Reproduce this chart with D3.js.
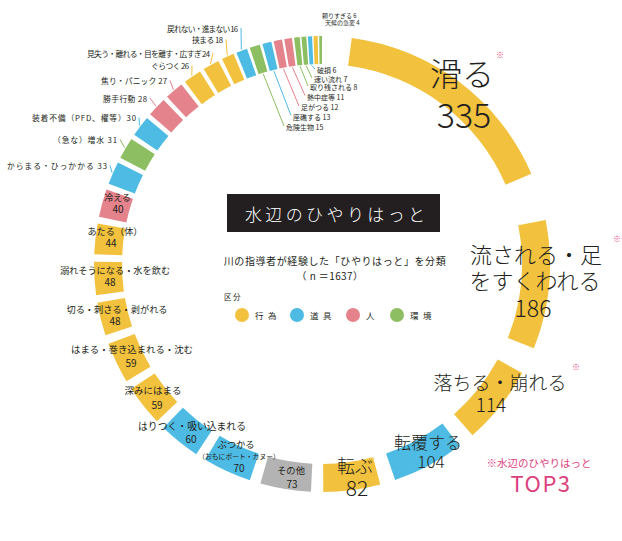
<!DOCTYPE html>
<html>
<head>
<meta charset="utf-8">
<script src="https://cdn.jsdelivr.net/npm/d3@7"></script>
<style>
  html, body { margin: 0; padding: 0; background: #fff; }
  svg { display: block; font-family: "Noto Sans CJK JP", "Noto Sans", sans-serif; }
</style>
</head>
<body>
<svg id="chart" width="622" height="541"></svg>
<script>
// ---- data: near-miss categories reported by river instructors (n = 1637) ----
const categories = [
  "滑る", "流される・足をすくわれる", "落ちる・崩れる", "転覆する", "転ぶ", "その他",
  "ぶつかる（おもにボート・カヌー）", "はりつく・吸い込まれる", "深みにはまる",
  "はまる・巻き込まれる・沈む", "切る・刺さる・剥がれる", "溺れそうになる・水を飲む",
  "あたる（体）", "冷える", "からまる・ひっかかる", "（急な）増水", "装着不備（PFD、櫂等）",
  "勝手行動", "焦り・パニック", "ぐらつく", "見失う・離れる・目を離す・広すぎ", "挟まる",
  "戻れない・進まない", "危険生物", "座礁する", "足がつる", "熱中症等", "取り残される",
  "速い流れ", "破損", "頼りすぎる", "天候の急変"
];
const values = [
  335, 186, 114, 104, 82, 73, 70, 60, 59, 59, 48, 48, 44, 40, 33, 31, 30,
  28, 27, 26, 24, 18, 16, 15, 13, 12, 11, 8, 7, 6, 6, 4
];
const groups = [
  "行為", "行為", "行為", "道具", "行為", "その他", "道具", "道具", "行為", "行為",
  "行為", "行為", "行為", "人", "道具", "環境", "道具", "人", "人", "行為", "行為",
  "行為", "道具", "環境", "道具", "人", "人", "環境", "環境", "道具", "行為", "環境"
];
const legendGroups = ["行為", "道具", "人", "環境"];
const totalLabel = "1637";

// ---- styling ----
const color = d3.scaleOrdinal()
  .domain(["行為", "道具", "人", "環境", "その他"])
  .range(["#F2C13D", "#4DBBE3", "#E4838C", "#8DBF62", "#B3B3B3"]);
const ink = "#231F20";
const accent = "#DC3F7E";

const svg = d3.select("#chart");
const cx = 322, cy = 264, rInner = 200, rOuter = 228;
const startDeg = 7.5, endDeg = 360;

// gap after each segment grows with its value
const gapDeg = v => 0.15 + 0.036 * v;
const total = d3.sum(values);
const gapTotal = d3.sum(values.slice(0, -1), gapDeg);
const angle = d3.scaleLinear().domain([0, total]).range([0, endDeg - startDeg - gapTotal]);

let cursor = startDeg;
const segs = values.map((v, i) => {
  const s = cursor, e = s + angle(v);
  cursor = e + (i < values.length - 1 ? gapDeg(v) : 0);
  return { i, v, s, e, mid: (s + e) / 2 };
});
const rad = d => d * Math.PI / 180;
const polar = (deg, r) => [cx + r * Math.sin(rad(deg)), cy - r * Math.cos(rad(deg))];

const arc = d3.arc().innerRadius(rInner).outerRadius(rOuter);
const ring = svg.append("g").attr("transform", `translate(${cx},${cy})`);
ring.selectAll("path").data(segs).join("path")
  .attr("d", d => arc({ startAngle: rad(d.s), endAngle: rad(d.e) }))
  .attr("fill", d => color(groups[d.i]));

// ---- centre title block ----
svg.append("rect").attr("x", 227).attr("y", 194).attr("width", 213).attr("height", 38).attr("fill", ink);
svg.append("text").attr("x", 335 + 1.7).attr("y", 221).attr("text-anchor", "middle")
  .attr("fill", "#fff").attr("font-size", 17).attr("letter-spacing", 3.4).attr("font-weight", 300)
  .text("水辺のひやりはっと");
svg.append("text").attr("x", 335).attr("y", 265).attr("text-anchor", "middle")
  .attr("fill", ink).attr("font-size", 10).attr("letter-spacing", 0.6)
  .text("川の指導者が経験した「ひやりはっと」を分類");
svg.append("text").attr("x", 330).attr("y", 280).attr("text-anchor", "middle")
  .attr("fill", ink).attr("font-size", 10).attr("letter-spacing", 0.4)
  .text(`（ n ＝${totalLabel}）`);
svg.append("text").attr("x", 224).attr("y", 300).attr("fill", ink)
  .attr("font-size", 7.5).attr("letter-spacing", 1.5).text("区分");

const legendX = [242, 297, 353, 397];
const legend = svg.append("g");
legendGroups.forEach((g, k) => {
  legend.append("circle").attr("cx", legendX[k]).attr("cy", 315).attr("r", 7).attr("fill", color(g));
  legend.append("text").attr("x", legendX[k] + 13).attr("y", 318.5).attr("fill", ink)
    .attr("font-size", 8.5).attr("letter-spacing", 4.5).text(g);
});

// ---- labels placed on / beside their segment ----
const inLabels = [
  { i: 0, x: 462, y: 86, fs: 32, vx: 464, vy: 128, vfs: 34, w: 300, mark: [500, 58] },
  { i: 1, x: 536, y: 263, fs: 22, brk: 6, y2: 289, vx: 533, vy: 317, vfs: 23, w: 300, mark: [617, 242] },
  { i: 2, x: 500, y: 390, fs: 19, vx: 491, vy: 412, vfs: 19, w: 300, mark: [576, 370] },
  { i: 3, x: 428, y: 449, fs: 17, vx: 431, vy: 468, vfs: 17, w: 300 },
  { i: 4, x: 355, y: 473, fs: 18, vx: 357, vy: 496, vfs: 21, w: 300 },
  { i: 5, x: 291, y: 474, fs: 9.3, vx: 292, vy: 488, vfs: 10 },
  { i: 6, x: 236, y: 448, fs: 9.3, brk: 4, y2: 459, fs2: 6.8, vx: 239, vy: 472, vfs: 10 },
  { i: 7, x: 192, y: 430, fs: 9.8, vx: 191, vy: 443, vfs: 10 },
  { i: 8, x: 153, y: 394, fs: 9.5, vx: 157, vy: 409, vfs: 10 },
  { i: 9, x: 132, y: 353, fs: 9.4, vx: 131, vy: 367, vfs: 10 },
  { i: 10, x: 117, y: 313, fs: 9.2, vx: 115, vy: 325, vfs: 10 },
  { i: 11, x: 115, y: 274, fs: 9.2, vx: 110, vy: 286, vfs: 10 },
  { i: 12, x: 115, y: 235, fs: 9.2, vx: 111, vy: 247, vfs: 10 },
  { i: 13, x: 117.5, y: 201, fs: 9, vx: 118, vy: 213, vfs: 10 }
];
const lab = svg.append("g").attr("fill", ink).attr("text-anchor", "middle");
inLabels.forEach(L => {
  const name = categories[L.i];
  const wt = L.w || 400;
  if (L.brk) {
    lab.append("text").attr("x", L.x).attr("y", L.y).attr("font-size", L.fs).attr("font-weight", wt)
      .text(name.slice(0, L.brk));
    lab.append("text").attr("x", L.x + (L.fs2 ? 3 : -1)).attr("y", L.y2).attr("font-size", L.fs2 || L.fs)
      .attr("font-weight", wt).text(name.slice(L.brk));
  } else {
    lab.append("text").attr("x", L.x).attr("y", L.y).attr("font-size", L.fs).attr("font-weight", wt).text(name);
  }
  lab.append("text").attr("x", L.vx).attr("y", L.vy).attr("font-size", L.vfs).attr("font-weight", wt)
    .text(values[L.i]);
  if (L.mark) {
    lab.append("text").attr("x", L.mark[0]).attr("y", L.mark[1]).attr("font-size", 8)
      .attr("fill", accent).text("※");
  }
});

const valueText = i => categories[i].endsWith("）") ? `${categories[i]}${values[i]}` : `${categories[i]} ${values[i]}`;

// left-hand callouts (text ends beside the ring, short leader to the segment)
const leftCallouts = [
  { i: 14, x: 107, y: 169, len: 100 },
  { i: 15, x: 117, y: 143, len: 64 },
  { i: 16, x: 136, y: 121, len: 104 },
  { i: 17, x: 147, y: 101.5, len: 44 },
  { i: 18, x: 167, y: 84, len: 66 },
  { i: 19, x: 189, y: 69, len: 38 },
  { i: 20, x: 210, y: 56.5, len: 123 },
  { i: 21, x: 223, y: 43, len: 31 },
  { i: 22, x: 238, y: 31.5, len: 71 }
];
const call = svg.append("g");
leftCallouts.forEach(C => {
  const s = segs[C.i];
  const [px, py] = polar(s.mid, rOuter + 1);
  call.append("line").attr("x1", C.x + 3).attr("y1", C.y - 3.5).attr("x2", px).attr("y2", py)
    .attr("stroke", color(groups[C.i])).attr("stroke-width", 1);
  call.append("text").attr("x", C.x - C.len).attr("y", C.y)
    .attr("textLength", C.len).attr("lengthAdjust", "spacing")
    .attr("font-size", 7.8).attr("fill", ink).text(valueText(C.i));
});

// inner callouts for the thin segments near the top
const innerCallouts = [
  { i: 23, x: 286, y: 130 },
  { i: 24, x: 293, y: 119.5 },
  { i: 25, x: 301, y: 110 },
  { i: 26, x: 307, y: 99.5 },
  { i: 27, x: 310, y: 90 },
  { i: 28, x: 314, y: 82 },
  { i: 29, x: 317, y: 73 }
];
innerCallouts.forEach(C => {
  const s = segs[C.i];
  const [px, py] = polar(s.mid, rInner - 1);
  call.append("line").attr("x1", px).attr("y1", py).attr("x2", C.x - 2).attr("y2", C.y - 4)
    .attr("stroke", color(groups[C.i])).attr("stroke-width", 1);
  call.append("text").attr("x", C.x).attr("y", C.y).attr("font-size", 7)
    .attr("fill", ink).text(valueText(C.i));
});

// the two smallest, noted above the ring
const topNotes = [
  { i: 30, x: 322, y: 17.5 },
  { i: 31, x: 325, y: 25 }
];
topNotes.forEach(C => {
  call.append("text").attr("x", C.x).attr("y", C.y).attr("font-size", 6)
    .attr("fill", ink).text(valueText(C.i));
});

// ---- TOP3 note ----
svg.append("text").attr("x", 539).attr("y", 467).attr("text-anchor", "middle")
  .attr("fill", accent).attr("font-size", 10.5).text("※水辺のひやりはっと");
svg.append("text").attr("x", 541).attr("y", 492).attr("text-anchor", "middle")
  .attr("fill", accent).attr("font-size", 22).attr("letter-spacing", 1.5)
  .text("TOP3");
</script>
</body>
</html>
